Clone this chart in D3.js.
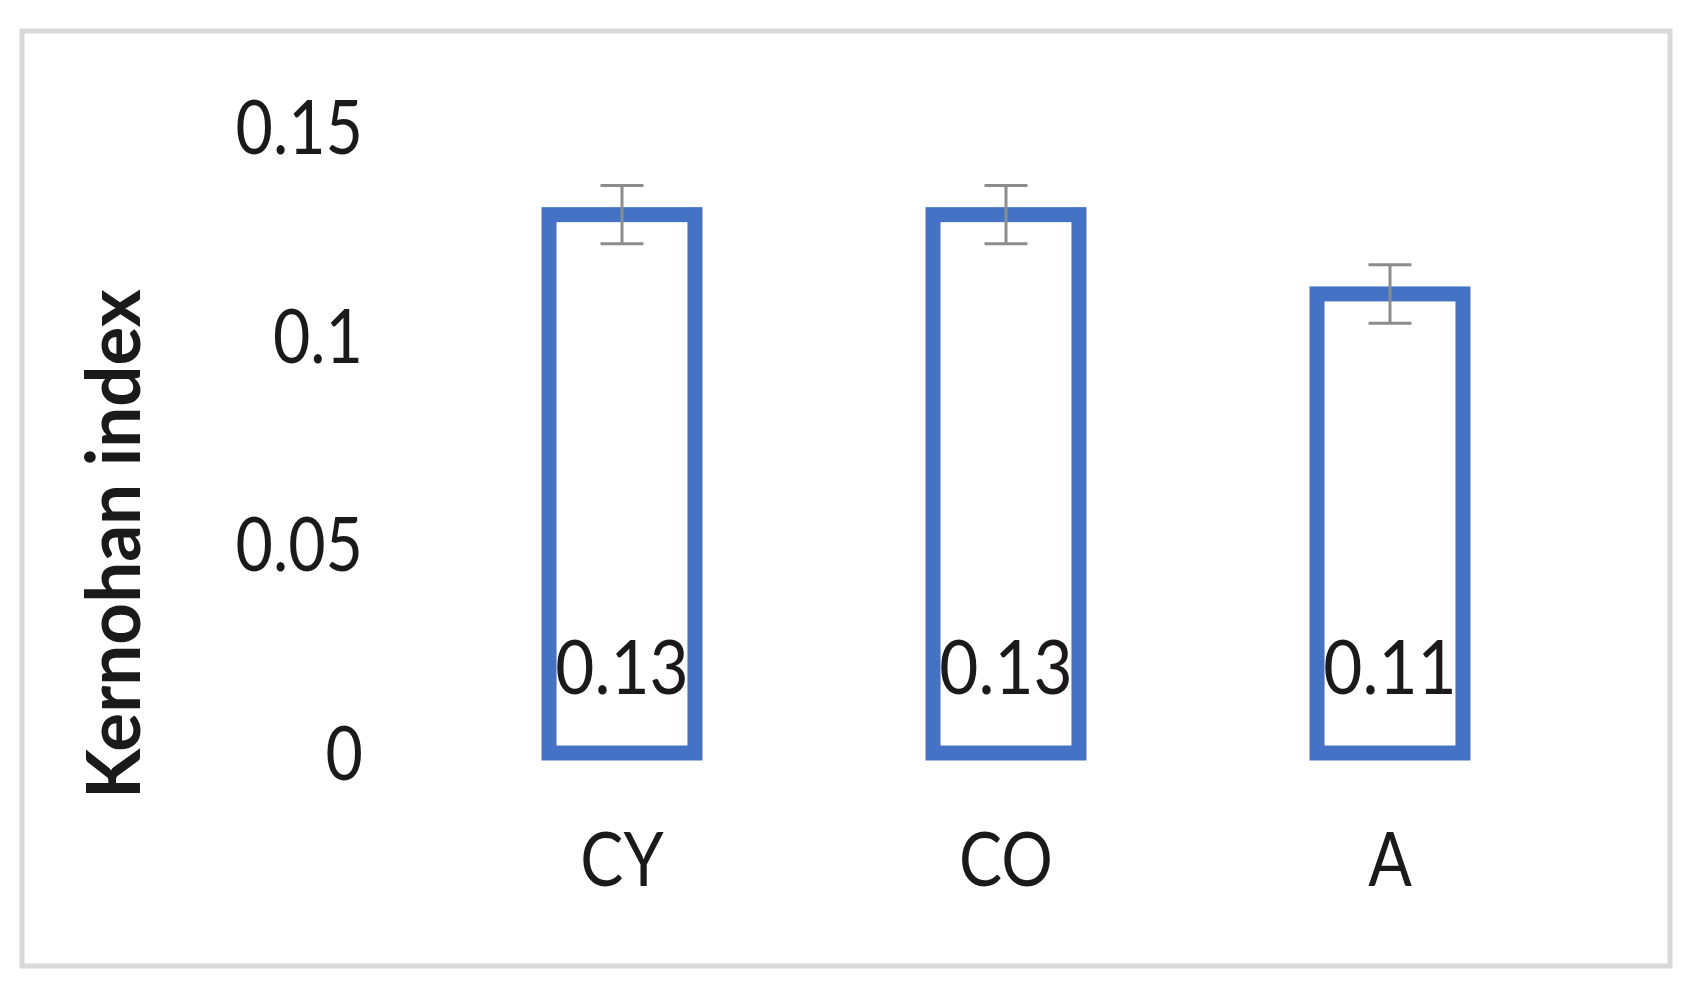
<!DOCTYPE html>
<html>
<head>
<meta charset="UTF-8">
<title>Kernohan index</title>
<script src="https://cdn.jsdelivr.net/npm/d3@7/dist/d3.min.js" charset="utf-8"></script>
<style>
	body { margin: 0; background: #fff; }
	text { font-family: Lato, "Open Sans", sans-serif; fill: #1a1a1a; }
</style>
</head>
<body>
<div id="chart"></div>
<script>
// data
var categories = ["CY", "CO", "A"];
var values = [0.129, 0.129, 0.11];
var errors = [0.007, 0.007, 0.007];
var valueLabels = ["0.13", "0.13", "0.11"];
var yTicks = [0, 0.05, 0.1, 0.15];
var yTickLabels = ["0", "0.05", "0.1", "0.15"];
var yTitle = "Kernohan index";

var width = 1697, height = 1001;
var squish = 0.86; // the original text is narrow (Calibri-like)
var fontSize = 75;

var svg = d3.select("#chart").append("svg")
	.attr("width", width)
	.attr("height", height);

// chart frame
svg.append("rect")
	.attr("x", 22).attr("y", 31)
	.attr("width", 1648).attr("height", 935)
	.attr("fill", "#fff")
	.attr("stroke", "#d9d9d9")
	.attr("stroke-width", 5);

var y = d3.scaleLinear().domain([0, 0.15]).range([753, 127]);
var x = d3.scaleBand().domain(categories)
	.range([430, 1582])
	.paddingInner(0.62)
	.paddingOuter(0.31);

var rows = categories.map(function(c, i){
	return {cat: c, v: values[i], e: errors[i], label: valueLabels[i]};
});

// text helper: narrow the glyphs horizontally around the anchor point
function addText(g, tx, ty, str, anchor, rot, sx){
	var t = "translate(" + tx + "," + ty + ")" + (rot ? " rotate(" + rot + ")" : "") + " scale(" + (sx || squish) + ",1)";
	return g.append("text")
		.attr("transform", t)
		.attr("text-anchor", anchor)
		.attr("font-size", fontSize)
		.text(str);
}

// y tick labels (no axis line in the original)
var capH = fontSize * 0.72;
yTicks.forEach(function(v, i){
	addText(svg, 363, y(v) + capH / 2, yTickLabels[i], "end");
});

// bars: outline only
var bw = x.bandwidth();
svg.selectAll("rect.bar").data(rows).enter().append("rect")
	.attr("class", "bar")
	.attr("x", function(d){ return x(d.cat); })
	.attr("y", function(d){ return y(d.v); })
	.attr("width", bw)
	.attr("height", function(d){ return y(0) - y(d.v); })
	.attr("fill", "none")
	.attr("stroke", "#4472c4")
	.attr("stroke-width", 15);

// error bars
var capW = 43;
var eb = svg.selectAll("g.err").data(rows).enter().append("g")
	.attr("class", "err")
	.attr("stroke", "#8c8c8c")
	.attr("stroke-width", 3);
eb.append("line")
	.attr("x1", function(d){ return x(d.cat) + bw / 2; })
	.attr("x2", function(d){ return x(d.cat) + bw / 2; })
	.attr("y1", function(d){ return y(d.v + d.e); })
	.attr("y2", function(d){ return y(d.v - d.e); });
eb.append("line")
	.attr("x1", function(d){ return x(d.cat) + bw / 2 - capW / 2; })
	.attr("x2", function(d){ return x(d.cat) + bw / 2 + capW / 2; })
	.attr("y1", function(d){ return y(d.v + d.e); })
	.attr("y2", function(d){ return y(d.v + d.e); });
eb.append("line")
	.attr("x1", function(d){ return x(d.cat) + bw / 2 - capW / 2; })
	.attr("x2", function(d){ return x(d.cat) + bw / 2 + capW / 2; })
	.attr("y1", function(d){ return y(d.v - d.e); })
	.attr("y2", function(d){ return y(d.v - d.e); });

// value labels inside the bars, near the bottom
rows.forEach(function(d){
	addText(svg, x(d.cat) + bw / 2, 694, d.label, "middle", 0, 0.9);
});

// category labels
rows.forEach(function(d){
	addText(svg, x(d.cat) + bw / 2, 886, d.cat, "middle");
});

// y axis title
addText(svg, 140, 544, yTitle, "middle", -90, 0.97)
	.attr("font-weight", "bold");
</script>
</body>
</html>
